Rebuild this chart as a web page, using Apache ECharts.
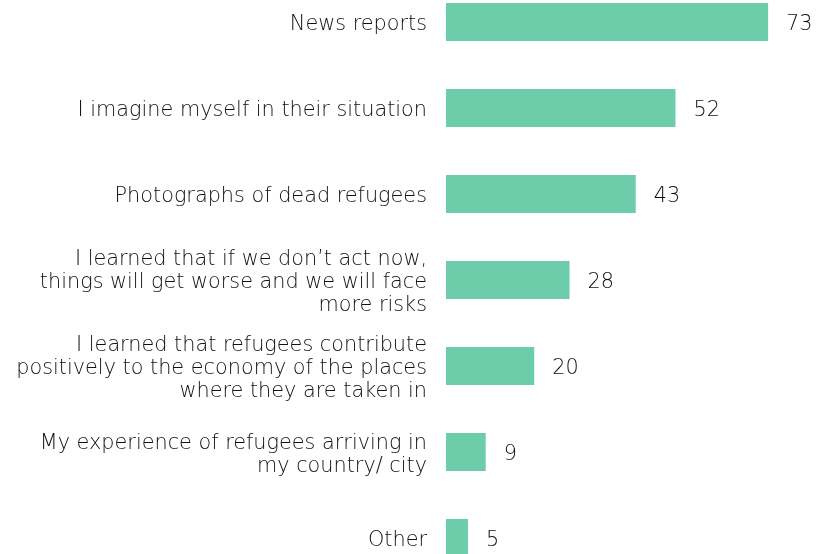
<!DOCTYPE html>
<html>
<head>
<meta charset="utf-8">
<script src="https://cdn.jsdelivr.net/npm/echarts@6/dist/echarts.min.js"></script>
<style>
  html, body { margin: 0; padding: 0; background: #ffffff; overflow: hidden; width: 816px; height: 554px; position: relative; }
  /* the plot runs a little past the top and bottom edges of the page */
  #chart { width: 816px; height: 602px; position: absolute; left: 0; top: -21px; }
</style>
</head>
<body>
<div id="chart"></div>
<script>
// Reasons respondents gave, listed top to bottom
const categories = [
  'News reports',
  'I imagine myself in their situation',
  'Photographs of dead refugees',
  'I learned that if we don\u2019t act now,\nthings will get worse and we will face\nmore risks',
  'I learned that refugees contribute\npositively to the economy of the places\nwhere they are taken in',
  'My experience of refugees arriving in\nmy country/ city',
  'Other'
];
const values = [73, 52, 43, 28, 20, 9, 5];

const chart = echarts.init(document.getElementById('chart'), null, { renderer: 'canvas' });

const textFont = {
  color: '#111111',
  fontFamily: 'DejaVu Sans',
  fontWeight: 200,
  fontSize: 20.8
};

chart.setOption({
  animation: false,
  backgroundColor: '#ffffff',
  grid: { left: 446, right: 17, top: 0, bottom: 0, containLabel: false },
  xAxis: {
    type: 'value',
    min: 0,
    max: 80,
    show: false
  },
  yAxis: {
    type: 'category',
    inverse: true,
    data: categories,
    axisLine: { show: false },
    axisTick: { show: false },
    axisLabel: Object.assign({
      margin: 19,
      align: 'right',
      lineHeight: 23,
      // each line is wrapped so it can sit a touch lower in its line box
      formatter: function (v) {
        return v.split('\n').map(function (s) { return '{t|' + s + '}'; }).join('\n');
      },
      rich: {
        t: Object.assign({ align: 'right', lineHeight: 23, padding: [6, 0, 0, 0] }, textFont)
      }
    }, textFont)
  },
  series: [{
    type: 'bar',
    data: values,
    barWidth: 38,
    itemStyle: { color: '#6dcdaa' },
    label: Object.assign({
      show: true,
      position: 'right',
      distance: 18,
      offset: [0, 3]
    }, textFont)
  }]
});
</script>
</body>
</html>
